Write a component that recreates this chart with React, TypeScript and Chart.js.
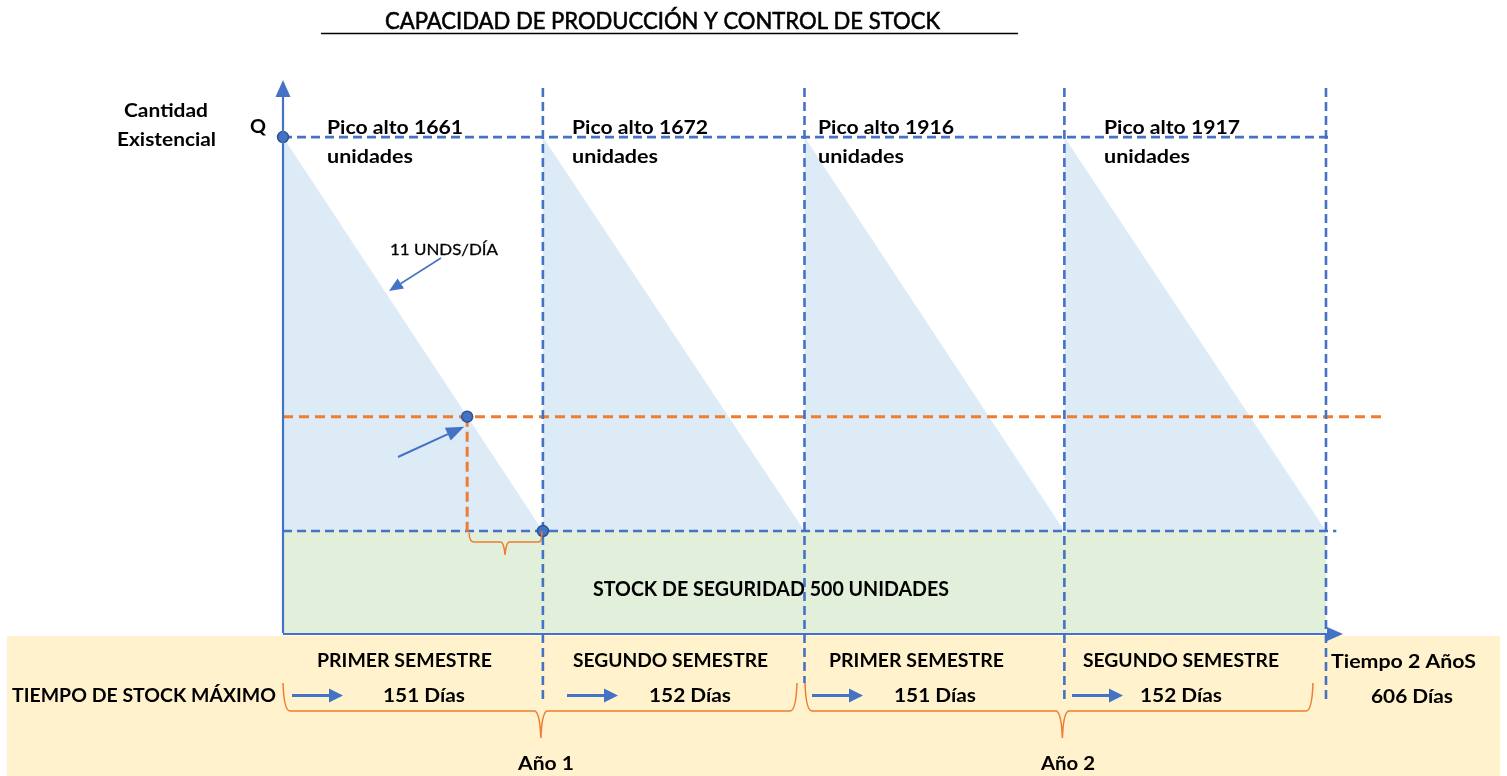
import { useEffect, useRef } from 'react';
import { Chart, registerables } from 'chart.js';

Chart.register(...registerables);

// ---- Data ----
const cycleStartDays = [0, 151, 303, 454];
const cycleEndDays = [151, 303, 454, 606];
const peakUnits = [1661, 1672, 1916, 1917];
const semesterNames = ['PRIMER SEMESTRE', 'SEGUNDO SEMESTRE', 'PRIMER SEMESTRE', 'SEGUNDO SEMESTRE'];
const semesterDays = [151, 152, 151, 152];
const yearNames = ['Año 1', 'Año 2'];
const totalDays = 606;
const safetyStock = 500;
const diagramPeakLevel = 2430; // schematic "Q" level (all peaks drawn at the same height)
const reorderDay = 107;
const reorderLevel = 1060;
const consumptionRate = 11;

const BLUE = '#4472C4';
const ORANGE = '#ED7D31';
const FONT = 'Lato, "Open Sans", sans-serif';

function fitText(ctx: CanvasRenderingContext2D, s: string, left: number, right: number, baseline: number, size: number, bold: boolean, strokeW = 0) {
  ctx.save();
  ctx.font = `${bold ? 'bold ' : ''}${size}px ${FONT}`;
  ctx.textAlign = 'left';
  ctx.textBaseline = 'alphabetic';
  const w = ctx.measureText(s).width;
  const sx = (right - left) / w;
  ctx.translate(left, baseline);
  ctx.scale(sx, 1);
  ctx.fillStyle = '#000';
  ctx.fillText(s, 0, 0);
  if (strokeW > 0) {
    ctx.strokeStyle = '#000';
    ctx.lineWidth = strokeW;
    ctx.strokeText(s, 0, 0);
  }
  ctx.restore();
}

function arrow(ctx: CanvasRenderingContext2D, x1: number, y1: number, x2: number, y2: number, width: number, headLen: number, headHalf: number) {
  const ang = Math.atan2(y2 - y1, x2 - x1);
  const bx = x2 - headLen * Math.cos(ang);
  const by = y2 - headLen * Math.sin(ang);
  ctx.save();
  ctx.strokeStyle = BLUE;
  ctx.fillStyle = BLUE;
  ctx.lineWidth = width;
  ctx.setLineDash([]);
  ctx.beginPath();
  ctx.moveTo(x1, y1);
  ctx.lineTo(bx, by);
  ctx.stroke();
  ctx.beginPath();
  ctx.moveTo(x2, y2);
  ctx.lineTo(bx + headHalf * Math.sin(ang), by - headHalf * Math.cos(ang));
  ctx.lineTo(bx - headHalf * Math.sin(ang), by + headHalf * Math.cos(ang));
  ctx.closePath();
  ctx.fill();
  ctx.restore();
}

function brace(ctx: CanvasRenderingContext2D, x0: number, x1: number, cx: number, y: number, tipY: number, topY: number) {
  ctx.beginPath();
  ctx.moveTo(x0, topY);
  ctx.quadraticCurveTo(x0 + 1, y, x0 + 7, y);
  ctx.lineTo(cx - 6, y);
  ctx.quadraticCurveTo(cx - 1, y + 2, cx, tipY);
  ctx.quadraticCurveTo(cx + 1, y + 2, cx + 6, y);
  ctx.lineTo(x1 - 7, y);
  ctx.quadraticCurveTo(x1 - 1, y, x1, topY);
  ctx.stroke();
}

const diagramPlugin = {
  id: 'diagram',
  beforeDatasetsDraw(chart: any) {
    const ctx: CanvasRenderingContext2D = chart.ctx;
    ctx.save();
    ctx.fillStyle = '#FFF2CC';
    ctx.fillRect(7, 636, 1493, 140);
    ctx.restore();
  },
  afterDatasetsDraw(chart: any) {
    const ctx: CanvasRenderingContext2D = chart.ctx;
    const xs = chart.scales.x;
    const ys = chart.scales.y;
    const x0 = xs.getPixelForValue(0);
    const y0 = ys.getPixelForValue(0);

    // Title + underline
    fitText(ctx, 'CAPACIDAD DE PRODUCCIÓN Y CONTROL DE STOCK', 385, 940, 29, 24, false, 0.6);
    ctx.save();
    ctx.strokeStyle = '#000';
    ctx.lineWidth = 1.5;
    ctx.beginPath();
    ctx.moveTo(321, 33.5);
    ctx.lineTo(1018, 33.5);
    ctx.stroke();
    ctx.restore();

    // Axes
    arrow(ctx, x0, y0, x0, 80, 2.2, 17, 7.5);
    arrow(ctx, x0, y0 + 1, 1343, y0 + 1, 2.2, 16, 7);

    // Y-axis labels
    fitText(ctx, 'Cantidad', 124, 208, 117, 19, true);
    fitText(ctx, 'Existencial', 117, 216, 146, 19, true);
    fitText(ctx, 'Q', 250, 266, 133, 19, true);

    // Peak labels
    const peakLeft = [327, 572, 818, 1104];
    peakUnits.forEach((p, i) => {
      fitText(ctx, `Pico alto ${p}`, peakLeft[i], peakLeft[i] + 136, 134, 18.5, true);
      fitText(ctx, 'unidades', peakLeft[i], peakLeft[i] + 86, 163, 18.5, true);
    });

    // Consumption rate annotation
    fitText(ctx, `${consumptionRate} UNDS/DÍA`, 390, 498, 255, 16, false, 0.3);
    arrow(ctx, 441, 258, 389, 291, 1.5, 14, 6);
    // Reorder point annotation arrow
    const rx = xs.getPixelForValue(reorderDay);
    const ry = ys.getPixelForValue(reorderLevel);
    arrow(ctx, 398, 457, rx - 3, ry + 10, 2, 18, 7);

    // Lead-time bracket
    const ssY = ys.getPixelForValue(safetyStock);
    const endX = xs.getPixelForValue(cycleEndDays[0]);
    ctx.save();
    ctx.strokeStyle = ORANGE;
    ctx.lineWidth = 1.5;
    ctx.beginPath();
    ctx.moveTo(rx + 2, ssY + 2);
    ctx.quadraticCurveTo(rx + 2, ssY + 11, rx + 7, ssY + 11);
    const mid = (rx + endX) / 2;
    ctx.lineTo(mid - 4, ssY + 11);
    ctx.quadraticCurveTo(mid - 1, ssY + 12, mid, ssY + 24);
    ctx.quadraticCurveTo(mid + 1, ssY + 12, mid + 4, ssY + 11);
    ctx.lineTo(endX - 4, ssY + 11);
    ctx.quadraticCurveTo(endX - 1, ssY + 11, endX - 1, ssY);
    ctx.stroke();
    ctx.restore();

    // Safety stock label
    fitText(ctx, `STOCK DE SEGURIDAD ${safetyStock} UNIDADES`, 593, 949, 596, 20, true);

    // Bottom band texts
    const semLeft = [317, 573, 829, 1083];
    const semRight = [492, 768, 1004, 1279];
    semesterNames.forEach((s, i) => fitText(ctx, s, semLeft[i], semRight[i], 667, 19, true));
    fitText(ctx, 'TIEMPO DE STOCK MÁXIMO', 12, 276, 702, 19, true);
    const dayLeft = [383, 649, 894, 1140];
    semesterDays.forEach((d, i) => fitText(ctx, `${d} Días`, dayLeft[i], dayLeft[i] + 82, 702, 19, true));
    const smallArrowX = [292, 567, 812, 1072];
    smallArrowX.forEach((x) => arrow(ctx, x, 695.5, x + 51, 695.5, 3, 14, 7));
    fitText(ctx, 'Tiempo 2 AñoS', 1331, 1476, 668, 19, true);
    fitText(ctx, `${totalDays} Días`, 1371, 1453, 703, 19, true);
    fitText(ctx, yearNames[0], 518, 574, 770, 19, true);
    fitText(ctx, yearNames[1], 1041, 1095, 770, 19, true);

    // Year braces
    ctx.save();
    ctx.strokeStyle = ORANGE;
    ctx.lineWidth = 1.5;
    brace(ctx, 283, 797, xs.getPixelForValue(cycleEndDays[0]) - 2, 711, 738, 683);
    brace(ctx, 805, 1313, xs.getPixelForValue(cycleEndDays[2]) - 2, 711, 738, 683);
    ctx.restore();
  },
};

export default function App() {
  const ref = useRef<HTMLCanvasElement | null>(null);

  useEffect(() => {
    if (!ref.current) return;
    const blueDash = { borderColor: BLUE, borderWidth: 2.6, borderDash: [9, 5], pointRadius: 0, fill: false, clip: false as any };
    const verticalBottoms = [-323, -245, -343, -343];
    const verticalTop = 2671;

    const datasets: any[] = [
      {
        type: 'scatter',
        data: [
          { x: 0, y: diagramPeakLevel },
          { x: reorderDay, y: reorderLevel },
          { x: cycleEndDays[0], y: safetyStock },
        ],
        pointRadius: 5.5,
        pointBackgroundColor: BLUE,
        pointBorderColor: '#2F528F',
        pointBorderWidth: 1.5,
        showLine: false,
        clip: false,
      },
      ...cycleEndDays.map((d, i) => ({
        type: 'line',
        data: [{ x: d, y: verticalTop }, { x: d, y: verticalBottoms[i] }],
        ...blueDash,
      })),
      {
        type: 'line',
        data: [{ x: reorderDay, y: reorderLevel }, { x: reorderDay, y: safetyStock - 10 }],
        borderColor: ORANGE, borderWidth: 3, borderDash: [10, 5], pointRadius: 0, fill: false,
      },
      {
        type: 'line',
        data: [{ x: 0, y: reorderLevel }, { x: 640, y: reorderLevel }],
        borderColor: ORANGE, borderWidth: 3, borderDash: [10, 6], pointRadius: 0, fill: false,
      },
      { type: 'line', data: [{ x: 0, y: diagramPeakLevel }, { x: 610, y: diagramPeakLevel }], ...blueDash },
      { type: 'line', data: [{ x: 0, y: safetyStock }, { x: 612, y: safetyStock }], ...blueDash },
      ...cycleStartDays.map((s, i) => ({
        type: 'line',
        data: [{ x: s, y: diagramPeakLevel }, { x: cycleEndDays[i], y: safetyStock }],
        borderColor: 'rgba(0,0,0,0)',
        borderWidth: 1,
        pointRadius: 0,
        backgroundColor: '#DDEBF7',
        fill: { value: safetyStock },
      })),
      {
        type: 'line',
        data: [{ x: 0, y: safetyStock }, { x: totalDays, y: safetyStock }],
        borderColor: 'rgba(0,0,0,0)',
        borderWidth: 1,
        pointRadius: 0,
        backgroundColor: '#E2EFDA',
        fill: 'origin',
      },
    ];

    const chart = new Chart(ref.current, {
      type: 'line',
      data: { datasets },
      options: {
        responsive: false,
        animation: false,
        devicePixelRatio: 1,
        layout: { padding: { left: 283, right: 122.5, top: 82, bottom: 143 } },
        scales: {
          x: { type: 'linear', min: 0, max: 640, display: false },
          y: { type: 'linear', min: 0, max: 2700, display: false },
        },
        plugins: {
          legend: { display: false },
          title: { display: false },
          tooltip: { enabled: false },
        },
        elements: { line: { tension: 0 } },
      },
      plugins: [diagramPlugin],
    } as any);

    return () => chart.destroy();
  }, []);

  return (
    <div style={{ position: 'absolute', left: 0, top: 0, width: 1507, height: 776, background: '#fff' }}>
      <canvas ref={ref} width={1507} height={776} style={{ display: 'block' }} />
    </div>
  );
}
